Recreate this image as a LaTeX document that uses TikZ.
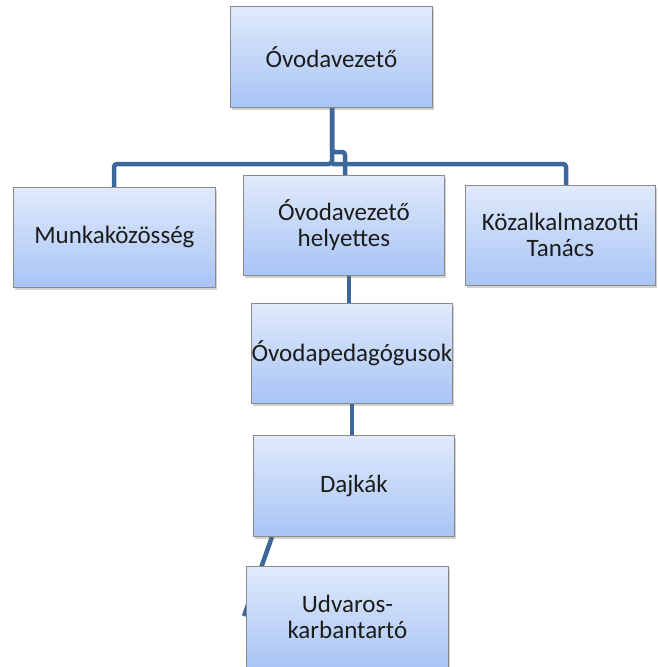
\documentclass[tikz,border=0pt]{standalone}
\usepackage{fontspec}
\setmainfont{Carlito}
\usetikzlibrary{shadows,backgrounds}
\definecolor{conncol}{HTML}{3C679C}
\definecolor{boxtop}{HTML}{E0EAFB}
\definecolor{boxbot}{HTML}{A8C4F5}
\definecolor{boxborder}{HTML}{8A8A8A}
\definecolor{txt}{HTML}{1C1C1C}
\begin{document}
\begin{tikzpicture}[x=1pt,y=-1pt,
  box/.style={draw=boxborder, line width=0.8pt, top color=boxtop, bottom color=boxbot,
    text=txt, font=\fontsize{25}{26}\selectfont, align=center, anchor=north west,
    inner sep=0pt, minimum height=100pt,
    drop shadow={shadow xshift=2pt, shadow yshift=-3pt, opacity=0.3, fill=black!60}},
  conn/.style={draw=conncol, line width=4.5pt, rounded corners=3pt}]
\useasboundingbox (0,0) rectangle (657,667);

\node[box, minimum width=202pt, minimum height=101pt] (top) at (230,6) {Óvodavezető};
\node[box, minimum width=202pt] (munka) at (13,187) {Munkaközösség};
\node[box, minimum width=201pt] (hely) at (243,175) {Óvodavezető\\helyettes};
\node[box, minimum width=190pt] (kozalk) at (465,185) {Közalkalmazotti\\Tanács};
\node[box, minimum width=201pt] (pedag) at (251,303) {Óvodapedagógusok};
\node[box, minimum width=201pt, minimum height=101pt] (dajka) at (253,435) {Dajkák};
\node[box, minimum width=202pt, minimum height=102pt] (udvar) at (246,566) {Udvaros-\\karbantartó};

\coordinate (jC) at (332,164);
\coordinate (jL) at (114,164);
\coordinate (jR) at (566,164);
\coordinate (jB) at (345,152);
\coordinate (xP) at (349,0);
\coordinate (xD) at (352,0);
\coordinate (dOut) at (272,0);
\coordinate (uEnd) at (244,616);

\begin{scope}[on background layer]
\draw[conn] (top.south -| jC) -- (jC) -- (jL) -- (munka.north -| jL);
\draw[conn] (jC) -- (jR) -- (kozalk.north -| jR);
\draw[conn] (top.south -| jC) |- (jB) -- (hely.north -| jB);
\draw[conn] (hely.south -| xP) -- (pedag.north -| xP);
\draw[conn] (pedag.south -| xD) -- (dajka.north -| xD);
\draw[conn] (dajka.south -| dOut) -- (uEnd);
\end{scope}
\end{tikzpicture}
\end{document}
